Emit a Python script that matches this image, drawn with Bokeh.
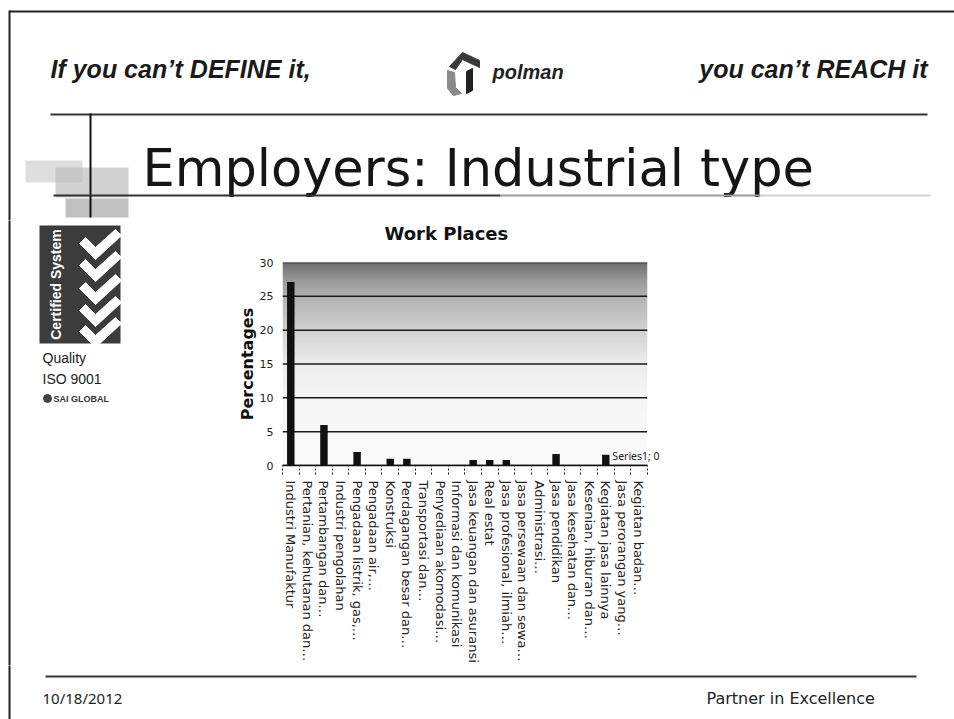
import numpy as np
from bokeh.plotting import figure
from bokeh.layouts import column, row
from bokeh.models import Range1d, FixedTicker
from bokeh.core.properties import value
from bokeh.embed import file_html
from bokeh.resources import INLINE

# ---------------- data ----------------
categories = [
    "Industri Manufaktur", "Pertanian, kehutanan dan…", "Pertambangan dan…",
    "Industri pengolahan", "Pengadaan listrik, gas,…", "Pengadaan air,…",
    "Konstruksi", "Perdagangan besar dan…", "Transportasi dan…",
    "Penyediaan akomodasi…", "Informasi dan komunikasi", "Jasa keuangan dan asuransi",
    "Real estat", "Jasa profesional, ilmiah…", "Jasa persewaan dan sewa…",
    "Administrasi…", "Jasa pendidikan", "Jasa kesehatan dan…",
    "Kesenian, hiburan dan…", "Kegiatan jasa lainnya", "Jasa perorangan yang…",
    "Kegiatan badan…",
]
percentages = [27.1, 0, 6.0, 0, 2.0, 0, 1.0, 1.0, 0, 0, 0, 0.8,
               0.8, 0.8, 0, 0, 1.7, 0, 0, 1.6, 0, 0]
y_ticks = [0, 5, 10, 15, 20, 25, 30]
chart_title = "Work Places"
y_title = "Percentages"
series_name = "Series1"
label_index = 20

n = len(categories)
centers = [i + 0.5 for i in range(n)]
bounds = list(range(n + 1))

PAGE_W, PAGE_H = 954, 719
HDR_H = 220          # header band (page y 0..220)
TTL_H = 30           # chart title band (page y 220..250)
MID_Y1 = 665         # bottom of middle band
LEFT_W, CHART_W = 230, 450


def qbox(f, l, t, r, b, color, alpha=1.0):
    f.quad(left=[l], right=[r], top=[t], bottom=[b], fill_color=color,
           fill_alpha=alpha, line_color=None)


def ptext(f, x, y, s, size, font="Liberation Sans", style="normal", color="#111111",
          align="left", baseline="middle", angle=0.0):
    f.text(x=[x], y=[y], text=[s], text_font=value(font), text_font_size=value(size),
           text_font_style=style, text_color=color, text_align=align,
           text_baseline=baseline, angle=angle)


def deco_fig(x0, x1, y0, y1):
    f = figure(width=x1 - x0, height=y1 - y0, x_range=Range1d(x0, x1),
               y_range=Range1d(y1, y0), output_backend="svg", toolbar_location=None,
               x_axis_location=None, y_axis_location=None, min_border=0,
               outline_line_color=None, background_fill_color="white",
               border_fill_color="white", frame_align=False)
    f.grid.visible = False
    return f


def slide_border(f):
    qbox(f, 9, 10, 954, 12, "#222222")
    qbox(f, 8, 10, 10, 719, "#222222")


# ---------------- header ----------------
hdr = deco_fig(0, PAGE_W, 0, HDR_H)
slide_border(hdr)
ptext(hdr, 50, 68, "If you can\u2019t DEFINE it,", "25px", style="bold italic", color="#1a1a1a")
ptext(hdr, 927, 68, "you can\u2019t REACH it", "25px", style="bold italic",
      color="#1a1a1a", align="right")
hdr.patch([449, 462, 479, 479, 462, 455], [66, 52, 60, 67, 59, 69], color="#3a3a3a")
hdr.patch([447, 454, 455, 461, 453, 447], [70, 72, 87, 93, 95, 88], color="#8a8a8a")
hdr.patch([466, 472, 472, 466], [71, 68, 90, 93], color="#222222")
ptext(hdr, 492, 71, "polman", "20px", style="bold italic", color="#222222")
qbox(hdr, 50, 113, 927, 115, "#333333")
qbox(hdr, 25, 160, 82, 182, "#d6d6d6", 0.8)
qbox(hdr, 55, 167, 128, 197, "#bdbdbd", 0.7)
qbox(hdr, 65, 198, 128, 217, "#b0b0b0", 0.8)
qbox(hdr, 89, 113, 91, 217, "#111111")
ptext(hdr, 142, 168, "Employers: Industrial type", "51px", font="DejaVu Sans",
      color="#151515", baseline="alphabetic")
qbox(hdr, 53, 194, 500, 196, "#333333")
qbox(hdr, 500, 194, 760, 196, "#9a9a9a")
qbox(hdr, 760, 194, 930, 196, "#d0d0d0")

# ---------------- left panel (certification badge) ----------------
lf = deco_fig(0, LEFT_W, HDR_H, MID_Y1)
slide_border(lf)
qbox(lf, 39, 225, 120, 343, "#3c3c3c")
ptext(lf, 55, 284, "Certified System", "14px", style="bold", color="white",
      align="center", angle=np.pi / 2)
check_dx = [-20, -14, -4, 16, 22, -4]
check_dy = [-2, -8, 2, -16, -10, 14]
for cy in [245, 267, 290, 312, 333]:
    lf.patch([99 + d for d in check_dx], [cy + d for d in check_dy], color="white")
ptext(lf, 42, 357, "Quality", "14px", color="#222222")
ptext(lf, 42, 378, "ISO 9001", "14px", color="#222222")
lf.scatter([47], [398], size=8, color="#444444")
ptext(lf, 53, 398, "SAI GLOBAL", "9px", style="bold", color="#333333")

# ---------------- chart title band ----------------
tt = deco_fig(LEFT_W, LEFT_W + CHART_W, HDR_H, HDR_H + TTL_H)
ptext(tt, 384, 233, chart_title, "18px", font="DejaVu Sans", style="bold", color="#111111")

# ---------------- chart ----------------
CH_H = MID_Y1 - HDR_H - TTL_H
FW, FH = 378, 203
MBL, MBT = 52, 12
p = figure(width=CHART_W, height=CH_H, x_range=Range1d(0, n + 0.8), y_range=Range1d(0, 30),
           output_backend="svg", toolbar_location=None,
           min_border_left=MBL, min_border_top=MBT,
           min_border_right=CHART_W - MBL - FW, min_border_bottom=CH_H - MBT - FH,
           background_fill_color="white", border_fill_color="white",
           outline_line_color=None, frame_align=False)

ny = 300
yy = np.linspace(0, 30, ny)
g = np.interp(yy, [0, 10, 15, 20, 25, 27.5, 30],
              [251, 246, 237, 210, 178, 152, 110]).astype(np.uint8)
img = np.empty((ny, 1), dtype=np.uint32)
v = img.view(dtype=np.uint8).reshape((ny, 1, 4))
v[:, 0, 0] = g
v[:, 0, 1] = g
v[:, 0, 2] = g
v[:, 0, 3] = 255
p.image_rgba(image=[img], x=0, y=0, dw=n, dh=30, level="image")

p.grid.visible = False
p.segment(x0=[0] * len(y_ticks), x1=[n] * len(y_ticks), y0=y_ticks, y1=y_ticks,
          line_color="#1a1a1a", line_width=1.5)
p.vbar(x=centers, top=percentages, width=0.45, fill_color="#111111", line_color=None)

xa = p.xaxis[0]
xa.bounds = (0, n)
xa.ticker = FixedTicker(ticks=centers, minor_ticks=bounds)
xa.major_label_overrides = {c: name for c, name in zip(centers, categories)}
xa.major_label_orientation = "vertical"
xa.major_label_text_font = "DejaVu Sans"
xa.major_label_text_font_size = "13px"
xa.major_label_text_color = "#222222"
xa.major_label_standoff = 6
xa.major_tick_line_color = None
xa.major_tick_out = 0
xa.major_tick_in = 0
xa.minor_tick_line_color = "#111111"
xa.minor_tick_line_dash = "2 2"
xa.minor_tick_out = 9
xa.minor_tick_in = 0
xa.axis_line_color = "#111111"
xa.axis_line_width = 1.5

ya = p.yaxis[0]
ya.ticker = FixedTicker(ticks=y_ticks)
ya.axis_line_color = None
ya.major_tick_line_color = None
ya.major_tick_out = 0
ya.major_tick_in = 0
ya.minor_tick_line_color = None
ya.major_label_text_font = "DejaVu Sans"
ya.major_label_text_font_size = "11px"
ya.major_label_text_color = "#222222"
ya.major_label_standoff = 9
ya.axis_label = y_title
ya.axis_label_text_font = "DejaVu Sans"
ya.axis_label_text_font_size = "16px"
ya.axis_label_text_font_style = "bold"
ya.axis_label_text_color = "#111111"
ya.axis_label_standoff = 0

p.text(x=[centers[label_index]], y=[percentages[label_index]],
       text=[f"{series_name}; {percentages[label_index]:g}"],
       x_offset=-10, y_offset=-3, text_font=value("Noto Sans"),
       text_font_size=value("10.5px"), text_color="#222222",
       text_baseline="bottom", text_align="left")

# ---------------- footer ----------------
ft = deco_fig(0, PAGE_W, MID_Y1, PAGE_H)
slide_border(ft)
qbox(ft, 45, 675, 916, 677, "#333333")
ptext(ft, 42, 697, "10/18/2012", "15px", font="Noto Sans", color="#222222")
ptext(ft, 706, 698, "Partner in Excellence", "16px", font="DejaVu Sans", color="#222222")

layout = column(hdr, row(lf, column(tt, p)), ft)
open("out.html", "w").write(file_html(layout, INLINE))
